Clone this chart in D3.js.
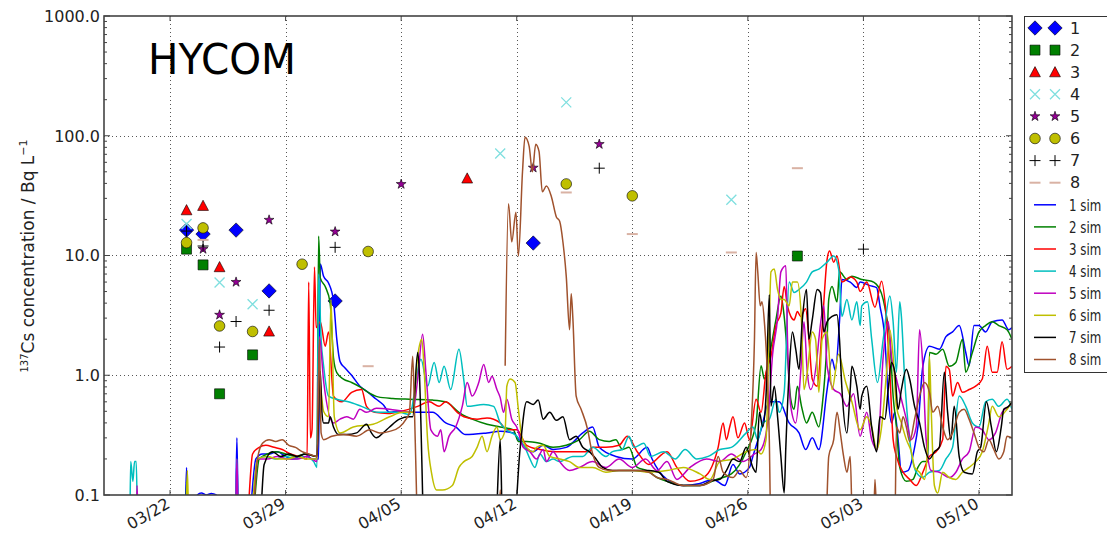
<!DOCTYPE html>
<html>
<head>
<meta charset="utf-8">
<script src="https://cdn.jsdelivr.net/npm/d3@7"></script>
<style>
  body { margin: 0; background: #fff; }
  svg { display: block; }
  text { font-family: "DejaVu Sans", sans-serif; fill: #222; }
</style>
</head>
<body>
<svg id="chart" width="1107" height="537"></svg>
<script>
// ---- axes ----
const startDay = "2011-03-18";
const endDay = "2011-05-12";
const dateTicks = ["2011-03-22", "2011-03-29", "2011-04-05", "2011-04-12", "2011-04-19", "2011-04-26", "2011-05-03", "2011-05-10"];
const concTicks = [0.1, 1, 10, 100, 1000];

// ---- observed concentrations (date, Bq/L) per station ----
const stationNames = ["1", "2", "3", "4", "5", "6", "7", "8"];
const obs1 = [["2011-03-23", 16.3], ["2011-03-24", 15.1], ["2011-03-26", 16.3], ["2011-03-28", 5.06], ["2011-04-01", 4.17], ["2011-04-13", 12.7]];
const obs2 = [["2011-03-23", 11.3], ["2011-03-24", 8.35], ["2011-03-25", 0.70], ["2011-03-27", 1.48], ["2011-04-29", 9.9]];
const obs3 = [["2011-03-23", 23.9], ["2011-03-24", 26], ["2011-03-25", 8.0], ["2011-03-28", 2.32], ["2011-04-09", 44]];
const obs4 = [["2011-03-23", 18.3], ["2011-03-25", 5.95], ["2011-03-27", 3.92], ["2011-04-11", 71], ["2011-04-15", 190], ["2011-04-25", 29.2]];
const obs5 = [["2011-03-24", 11.3], ["2011-03-25", 3.19], ["2011-03-26", 6.0], ["2011-03-28", 19.8], ["2011-04-01", 15.8], ["2011-04-05", 39.4], ["2011-04-13", 54], ["2011-04-17", 85]];
const obs6 = [["2011-03-23", 12.8], ["2011-03-24", 17], ["2011-03-25", 2.58], ["2011-03-27", 2.32], ["2011-03-30", 8.46], ["2011-04-03", 10.8], ["2011-04-15", 39.6], ["2011-04-19", 31.5]];
const obs7 = [["2011-03-23", 16.0], ["2011-03-24", 12.0], ["2011-03-25", 1.72], ["2011-03-26", 2.81], ["2011-03-28", 3.49], ["2011-04-01", 11.7], ["2011-04-17", 53.6], ["2011-05-03", 11.3]];
const obs8 = [["2011-03-24", 13.5], ["2011-04-03", 1.19], ["2011-04-15", 33.6], ["2011-04-19", 15.1], ["2011-04-25", 10.6], ["2011-04-29", 53.6]];

// ---- simulated concentrations: [days after startDay, Bq/L]; null = no value ----
const simNames = ["1 sim", "2 sim", "3 sim", "4 sim", "5 sim", "6 sim", "7 sim", "8 sim"];
const sim1 = [[0,0.05],[4.9,0.05],[5.0,0.17],[5.1,0.05],[5.6,0.05],[5.65,0.1],[5.9,0.104],[6.2,0.1],[6.5,0.103],[6.8,0.1],[6.9,0.05],[7.95,0.05],[8.05,0.3],[8.15,0.05],[8.7,0.05],[9.2,0.2],[9.6,0.22],[10.0,0.22],[10.5,0.23],[11.0,0.21],[11.4,0.2],[11.8,0.21],[12.2,0.22],[12.6,0.2],[13.0,0.2],[13.1,8.5],[13.3,6.7],[13.6,5.9],[13.9,4.2],[14.1,2.0],[14.3,1.3],[14.6,1.15],[15.0,1.0],[15.5,0.81],[16.0,0.72],[16.5,0.63],[16.9,0.57],[17.3,0.49],[17.8,0.5],[18.6,0.49],[19.9,0.49],[20.7,0.4],[21.3,0.37],[21.9,0.32],[23.2,0.33],[24.0,0.34],[24.8,0.33],[25.2,0.28],[26.0,0.23],[26.6,0.26],[27.2,0.24],[28.0,0.25],[29.0,0.33],[29.6,0.37],[30.0,0.25],[31.0,0.21],[32.0,0.2],[32.9,0.25],[33.2,0.2],[34.1,0.135],[35.1,0.12],[36.1,0.125],[36.9,0.135],[37.6,0.12],[38.1,0.18],[38.5,0.15],[39.1,0.17],[39.3,0.21],[39.8,0.35],[40.3,0.6],[40.9,0.6],[41.5,0.4],[42.1,0.33],[42.5,0.24],[42.9,0.3],[43.3,0.24],[43.8,0.76],[44.1,1.36],[44.3,1.1],[44.55,2.8],[44.7,6.3],[45.2,6.0],[45.6,5.4],[45.8,6.0],[46.4,5.6],[46.8,5.4],[47.0,3.8],[47.3,2.0],[47.5,0.67],[47.7,0.4],[47.9,0.49],[48.1,0.29],[48.3,0.155],[48.7,0.16],[49.1,0.25],[49.3,0.37],[49.6,1.19],[50.0,1.75],[50.6,1.65],[51.0,2.1],[51.4,2.3],[51.8,2.6],[52.2,1.55],[52.4,1.2],[52.7,2.6],[53.0,2.6],[53.4,2.3],[53.8,2.8],[54.4,2.9],[54.8,2.4],[55,2.5]];
const sim2 = [[0,0.05],[4.95,0.05],[5.0,0.13],[5.1,0.05],[8.0,0.05],[8.05,0.13],[8.15,0.05],[8.9,0.05],[9.4,0.2],[9.9,0.22],[10.4,0.23],[11.0,0.22],[11.6,0.21],[12.2,0.22],[12.9,0.21],[13.0,14.5],[13.1,6.5],[13.4,5.5],[13.7,4.0],[13.9,1.4],[14.1,1.05],[14.5,0.93],[15.0,0.87],[15.5,0.8],[16.0,0.72],[16.6,0.66],[17.5,0.64],[18.5,0.63],[19.9,0.62],[20.7,0.6],[21.5,0.49],[21.7,0.47],[22.3,0.43],[23.2,0.39],[24.0,0.37],[24.8,0.35],[25.1,0.28],[25.6,0.28],[26.4,0.27],[27.2,0.25],[28.0,0.26],[28.8,0.29],[29.4,0.34],[30.0,0.29],[30.6,0.28],[31.0,0.29],[31.4,0.24],[31.8,0.25],[32.3,0.17],[32.9,0.16],[33.5,0.14],[34.1,0.13],[35.1,0.12],[36.1,0.12],[37.1,0.135],[38.0,0.15],[38.9,0.23],[39.5,0.4],[39.8,1.2],[40.0,0.93],[40.3,1.44],[40.7,2.9],[41.0,4.6],[41.2,3.1],[41.4,1.44],[41.6,0.63],[41.8,0.52],[42.0,0.81],[42.25,0.55],[42.55,0.4],[42.9,0.49],[43.3,0.37],[43.5,0.55],[43.8,2.0],[43.9,4.3],[44.1,5.5],[44.4,4.1],[44.55,7.3],[45.0,6.3],[45.3,6.7],[45.9,6.3],[46.5,6.1],[47.0,5.2],[47.4,3.1],[47.6,2.0],[47.8,0.67],[48.0,0.37],[48.2,0.17],[48.6,0.13],[49.0,0.135],[49.3,0.17],[49.6,0.19],[49.9,0.19],[50.0,1.55],[50.4,1.5],[50.8,1.65],[51.2,1.19],[51.6,1.28],[52.0,2.0],[52.2,1.06],[52.6,1.55],[53.0,2.3],[53.4,2.6],[53.8,2.8],[54.2,2.6],[54.7,2.4],[55,2.0]];
const sim3 = [[0,0.05],[8.6,0.05],[9.0,0.22],[9.4,0.25],[9.8,0.26],[10.3,0.25],[10.8,0.24],[11.3,0.22],[11.8,0.21],[12.3,0.2],[12.4,6.0],[12.5,0.3],[12.6,0.35],[12.75,8.0],[12.85,2.5],[13.1,2.8],[13.4,1.75],[13.6,2.3],[13.9,0.67],[14.4,0.6],[15.0,0.72],[15.6,0.76],[15.9,0.55],[16.4,0.49],[17.2,0.48],[18.0,0.5],[19.0,0.55],[19.7,0.6],[20.3,0.55],[20.7,0.6],[21.4,0.49],[21.8,0.45],[22.6,0.43],[23.2,0.44],[24.0,0.4],[24.4,0.35],[25.0,0.35],[25.6,0.26],[26.4,0.24],[27.4,0.23],[28.4,0.23],[29.4,0.23],[29.6,0.25],[30.4,0.25],[31.2,0.26],[31.7,0.31],[32.3,0.23],[33.0,0.18],[34.1,0.23],[34.7,0.17],[35.5,0.13],[36.1,0.135],[36.7,0.16],[37.2,0.25],[37.5,0.4],[37.7,0.29],[37.9,0.37],[38.1,0.45],[38.4,0.3],[38.8,0.4],[39.1,0.29],[39.5,0.63],[39.8,0.49],[40.1,1.06],[40.4,1.44],[40.7,2.6],[41.0,3.3],[41.2,5.5],[41.4,3.8],[41.6,3.1],[41.8,2.9],[42.0,3.4],[42.2,3.1],[42.5,3.6],[42.7,2.0],[42.9,0.93],[43.2,0.81],[43.5,2.5],[43.8,9.3],[43.95,10.9],[44.2,8.8],[44.4,9.9],[44.7,6.0],[45.2,6.6],[45.6,6.0],[45.8,5.0],[46.2,6.0],[46.7,3.7],[47.1,6.1],[47.4,2.9],[47.6,1.06],[47.8,0.29],[48.0,0.21],[48.4,0.155],[48.8,0.135],[49.2,0.12],[49.6,0.155],[50.0,0.21],[50.4,0.23],[50.8,0.29],[51.0,1.19],[51.2,1.12],[51.4,0.67],[51.7,0.87],[52.0,0.72],[52.4,0.76],[52.8,0.81],[53.2,0.93],[53.5,1.75],[53.8,1.06],[54.1,1.06],[54.4,1.9],[54.7,1.12],[55,1.19]];
const sim4 = [[0,0.05],[1.55,0.05],[1.62,0.19],[1.75,0.13],[1.85,0.19],[1.95,0.19],[2.05,0.05],[7.95,0.05],[8.05,0.2],[8.15,0.05],[8.8,0.05],[9.3,0.2],[9.8,0.21],[10.4,0.2],[11.0,0.21],[11.6,0.2],[12.2,0.21],[12.7,0.19],[12.9,0.17],[13.0,7.0],[13.15,2.0],[13.3,1.2],[13.6,0.67],[14.1,0.63],[14.8,0.6],[15.6,0.55],[16.6,0.49],[17.9,0.49],[18.5,0.47],[19.2,1.36],[19.6,0.81],[20.0,1.28],[20.3,0.87],[20.6,1.19],[21.0,0.76],[21.5,1.65],[21.8,0.9],[22.0,0.55],[23.0,0.57],[23.6,0.55],[24.0,0.4],[24.4,0.35],[25.0,0.31],[25.5,0.25],[25.8,0.2],[26.1,0.17],[26.4,0.22],[26.8,0.19],[27.2,0.2],[27.6,0.19],[28.0,0.2],[28.4,0.21],[29.0,0.21],[29.6,0.25],[30.4,0.21],[30.8,0.23],[31.4,0.24],[31.8,0.31],[32.1,0.25],[32.7,0.27],[33.1,0.21],[33.9,0.23],[34.6,0.2],[35.2,0.24],[35.9,0.2],[36.6,0.21],[37.3,0.24],[38.0,0.25],[38.9,0.33],[39.3,0.37],[39.6,0.29],[39.9,0.4],[40.3,0.43],[40.7,0.63],[40.9,0.49],[41.2,0.72],[41.5,6.0],[41.8,4.9],[42.1,5.2],[42.55,6.0],[42.9,7.3],[43.3,7.7],[43.8,8.8],[44.2,9.9],[44.5,7.7],[44.7,3.1],[45.0,4.3],[45.3,2.9],[45.6,4.1],[45.8,2.6],[45.9,3.8],[46.25,4.1],[46.5,2.0],[46.85,0.87],[47.2,2.0],[47.6,4.6],[47.8,2.8],[48.0,1.06],[48.2,4.1],[48.3,3.1],[48.5,0.93],[48.8,0.29],[49.2,0.155],[49.6,0.14],[50.0,0.155],[50.6,0.16],[51.0,0.2],[51.4,0.25],[51.8,0.67],[52.2,0.55],[52.6,0.4],[53.0,0.37],[53.4,0.6],[53.8,0.63],[54.2,0.55],[54.7,0.63],[55,0.52]];
const sim5 = [[0,0.05],[1.95,0.05],[2.0,0.12],[2.1,0.05],[7.95,0.05],[8.05,0.2],[8.15,0.05],[8.9,0.05],[9.3,0.2],[9.9,0.2],[10.5,0.21],[11.1,0.2],[11.7,0.2],[12.3,0.21],[12.9,0.19],[13.05,2.1],[13.3,0.9],[13.9,0.4],[14.3,0.43],[14.7,0.45],[15.1,0.43],[15.5,0.52],[15.9,0.49],[16.5,0.53],[17.3,0.52],[18.1,0.5],[18.7,0.49],[19.0,0.93],[19.3,2.2],[19.5,1.06],[19.8,0.35],[20.2,0.31],[20.4,0.35],[20.6,0.23],[20.9,0.31],[21.3,0.37],[21.7,0.55],[22.0,0.87],[22.3,0.67],[22.7,0.87],[23.0,1.23],[23.3,0.87],[23.5,0.98],[23.8,0.76],[24.0,0.65],[24.2,0.49],[24.4,0.63],[24.7,0.43],[25.0,0.37],[25.4,0.25],[25.8,0.23],[26.2,0.2],[26.6,0.24],[26.8,0.19],[27.2,0.23],[27.6,0.19],[28.2,0.16],[28.8,0.17],[29.6,0.19],[30.4,0.17],[31.2,0.2],[32.0,0.17],[32.8,0.2],[33.5,0.16],[34.1,0.19],[34.7,0.135],[35.5,0.17],[36.5,0.2],[37.3,0.19],[38.0,0.22],[38.7,0.19],[39.4,0.22],[39.8,0.24],[40.2,0.4],[40.5,1.5],[40.8,3.0],[41.0,7.3],[41.3,8.2],[41.4,2.0],[41.6,0.55],[41.9,0.4],[42.2,1.06],[42.4,2.8],[42.6,1.06],[42.8,0.76],[43.2,1.44],[43.3,2.0],[43.6,3.8],[43.8,1.19],[44.2,0.76],[44.6,0.7],[45.0,0.55],[45.4,0.7],[45.8,0.31],[46.2,0.49],[46.5,0.29],[46.85,0.24],[47.2,1.44],[47.5,2.8],[47.7,1.44],[48.0,0.93],[48.3,0.63],[48.6,0.43],[48.9,0.29],[49.2,0.37],[49.4,2.4],[49.6,1.19],[49.8,0.29],[50.1,0.16],[50.6,0.155],[51.2,0.14],[51.6,0.155],[52.0,0.2],[52.4,0.23],[52.8,0.37],[53.2,0.35],[53.6,0.29],[54.0,0.33],[54.4,0.49],[54.8,0.55],[55,0.58]];
const sim6 = [[0,0.05],[4.95,0.05],[5.05,0.16],[5.15,0.05],[8.8,0.05],[9.3,0.2],[9.9,0.21],[10.5,0.2],[11.1,0.2],[11.7,0.21],[12.3,0.2],[12.9,0.2],[13.05,0.9],[13.3,0.5],[13.6,0.45],[13.75,4.3],[13.95,0.45],[14.3,0.33],[15.1,0.37],[16.3,0.39],[17.3,0.45],[18.1,0.49],[18.7,0.49],[19.0,1.44],[19.25,2.0],[19.4,1.06],[19.6,0.29],[19.85,0.15],[20.15,0.11],[20.5,0.11],[21.1,0.12],[21.5,0.17],[21.8,0.19],[22.3,0.21],[22.6,0.25],[22.9,0.31],[23.2,0.23],[23.5,0.31],[23.8,0.37],[24.0,0.29],[24.3,0.35],[24.4,0.81],[24.6,0.93],[24.9,0.87],[25.1,0.52],[25.3,0.31],[25.6,0.25],[26.0,0.23],[26.2,0.25],[26.6,0.26],[27.0,0.21],[27.6,0.2],[28.2,0.19],[28.8,0.17],[29.6,0.17],[30.4,0.155],[31.2,0.16],[32.0,0.16],[33.0,0.155],[34.1,0.16],[35.1,0.17],[36.1,0.15],[36.7,0.135],[37.3,0.19],[38.1,0.2],[38.9,0.23],[39.5,0.24],[39.8,0.22],[40.1,0.29],[40.3,2.8],[40.4,7.3],[40.6,7.7],[40.8,5.2],[41.0,4.3],[41.2,4.3],[41.5,3.8],[41.7,6.0],[42.0,6.0],[42.25,2.8],[42.4,0.76],[42.6,1.06],[42.9,2.3],[43.1,2.0],[43.3,0.72],[43.5,2.0],[43.8,2.3],[44.1,0.76],[44.5,1.5],[44.9,0.9],[45.3,0.6],[45.8,0.35],[46.2,0.45],[46.5,0.37],[46.8,0.24],[47.1,0.37],[47.4,1.06],[47.6,2.4],[47.8,1.44],[48.0,0.55],[48.3,0.4],[48.6,0.29],[48.9,0.23],[49.1,0.17],[49.4,0.155],[49.7,0.135],[49.9,0.29],[50.0,1.44],[50.1,0.55],[50.3,0.12],[50.5,0.104],[50.8,0.155],[51.2,0.14],[51.6,0.135],[52.0,0.155],[52.4,0.17],[52.8,0.19],[53.2,0.23],[53.6,0.4],[53.8,0.55],[54.2,0.45],[54.7,0.52],[55,0.6]];
const sim7 = [[0,0.05],[9.4,0.05],[9.7,0.18],[10.2,0.23],[10.7,0.21],[11.2,0.22],[11.7,0.21],[12.2,0.22],[12.9,0.21],[13.1,1.08],[13.2,0.49],[13.3,0.4],[13.6,0.4],[13.7,0.45],[13.9,0.37],[14.2,0.32],[14.7,0.32],[15.3,0.33],[15.9,0.39],[16.2,0.33],[16.5,0.3],[16.9,0.33],[17.3,0.37],[17.9,0.43],[18.5,0.45],[18.7,0.45],[19.0,1.55],[19.1,1.06],[19.3,0.1],[19.35,0.05],[23.7,0.05],[24.0,0.29],[24.15,0.05],[24.8,0.05],[25.2,0.24],[25.6,0.6],[26.0,0.57],[26.3,0.62],[26.6,0.43],[27.0,0.49],[27.4,0.42],[27.8,0.45],[28.2,0.29],[28.6,0.31],[29.0,0.25],[29.4,0.23],[29.8,0.2],[30.2,0.17],[30.8,0.16],[32.0,0.16],[33.0,0.16],[33.6,0.155],[34.1,0.13],[35.1,0.12],[36.1,0.12],[36.7,0.13],[37.3,0.135],[37.7,0.16],[38.1,0.2],[38.5,0.19],[38.9,0.25],[39.3,0.17],[39.5,0.155],[39.7,0.49],[39.9,0.37],[40.1,0.67],[40.3,4.7],[40.4,0.55],[40.6,0.81],[40.8,0.45],[41.0,0.21],[41.2,0.104],[41.3,0.25],[41.5,1.06],[41.7,2.3],[41.9,1.65],[42.1,1.12],[42.3,2.9],[42.55,5.2],[42.7,2.0],[42.9,2.9],[43.2,5.2],[43.4,4.9],[43.6,2.3],[43.8,2.8],[44.1,3.1],[44.4,3.2],[44.55,2.0],[44.7,0.76],[45.0,0.33],[45.2,0.76],[45.3,1.19],[45.6,0.81],[45.8,0.52],[45.9,0.67],[46.2,0.81],[46.5,0.37],[46.8,0.23],[47.0,0.45],[47.3,0.43],[47.5,0.76],[47.7,1.28],[47.9,1.06],[48.1,0.52],[48.3,0.76],[48.6,1.12],[48.8,0.93],[49.1,0.55],[49.4,0.4],[49.7,0.25],[50.0,0.2],[50.3,0.23],[50.6,0.25],[50.9,1.06],[51.1,0.49],[51.3,0.29],[51.5,0.55],[51.8,0.21],[52.1,0.155],[52.6,0.15],[52.9,0.23],[53.1,0.25],[53.45,0.6],[53.75,0.37],[54.05,0.23],[54.35,0.37],[54.5,0.52],[54.8,0.55],[55,0.6]];
const sim8 = [[0,0.05],[8.9,0.05],[9.3,0.2],[9.6,0.27],[10.0,0.29],[10.4,0.28],[10.8,0.29],[11.2,0.26],[11.6,0.25],[12.0,0.23],[12.4,0.22],[12.9,0.21],[13.05,2.0],[13.15,0.33],[13.3,0.29],[13.8,0.31],[14.5,0.32],[15.3,0.31],[16.1,0.35],[16.7,0.33],[17.3,0.34],[17.9,0.37],[18.3,0.43],[18.5,0.49],[18.7,1.44],[18.8,0.55],[18.9,0.155],[19.0,0.05],[23.9,0.05],[24.0,0.11],[24.1,0.05],[24.2,null],[24.3,1.2],[24.5,27],[24.7,13],[24.95,23],[25.1,9.9],[25.35,50],[25.5,97],[25.75,82],[25.95,50],[26.15,85],[26.35,74],[26.55,34],[26.8,38],[27.1,31],[27.4,21],[27.6,19.3],[27.8,12.9],[28.0,6.7],[28.2,2.4],[28.3,4.8],[28.4,3.0],[28.6,0.67],[28.9,0.52],[29.3,0.35],[29.5,0.25],[29.7,0.2],[30.0,0.17],[30.6,0.16],[31.6,0.16],[32.4,0.16],[33.0,0.155],[33.5,0.14],[34.1,0.135],[35.1,0.12],[36.1,0.12],[36.9,0.135],[37.2,0.21],[37.5,0.155],[38.1,0.14],[38.5,0.16],[38.9,0.14],[39.2,0.37],[39.4,2.0],[39.5,10.6],[39.6,7.3],[39.75,3.8],[39.85,4.1],[40.0,2.8],[40.3,0.29],[40.4,0.05],[43.7,0.05],[43.9,0.21],[44.2,0.29],[44.4,0.49],[44.6,0.33],[44.8,0.21],[45.0,0.155],[45.2,0.21],[45.35,0.05],[46.6,0.05],[46.7,0.135],[46.85,0.05],[47.9,0.05],[48.0,0.37],[48.2,0.33],[48.4,0.45],[48.6,0.37],[48.8,0.28],[49.1,0.43],[49.4,0.67],[49.7,0.87],[50.0,0.72],[50.2,0.49],[50.5,0.55],[50.8,0.37],[51.1,0.29],[51.4,0.33],[51.8,0.49],[52.1,0.52],[52.4,0.43],[52.7,0.33],[53.0,0.25],[53.3,0.23],[53.6,0.29],[53.9,0.24],[54.2,0.2],[54.5,0.23],[54.7,0.31],[55,0.3]];

// ---- styling ----
const obsColors = ["#0000ff", "#008000", "#ff0000", "#7fdfdf", "#940094", "#bfbf00", "#000000", "#d9b2a4"];
const obsShapes = ["diamond", "square", "triangle", "x", "star", "circle", "plus", "hline"];
const simColors = ["#0000ff", "#008000", "#ff0000", "#00bfbf", "#bf00bf", "#bfbf00", "#000000", "#a0522d"];

const observations = [obs1, obs2, obs3, obs4, obs5, obs6, obs7, obs8];
const simulations = [sim1, sim2, sim3, sim4, sim5, sim6, sim7, sim8];

const svg = d3.select("#chart");
const margin = { left: 104, right: 1012, top: 16, bottom: 495 };
const parse = d3.utcParse("%Y-%m-%d");
const t0 = parse(startDay);

const x = d3.scaleUtc().domain([t0, parse(endDay)]).range([margin.left, margin.right]);
const y = d3.scaleLog().domain([0.1, 1000]).range([margin.bottom, margin.top]);
const dayToDate = d => new Date(t0.getTime() + d * 864e5);

svg.append("defs").append("clipPath").attr("id", "plotClip")
  .append("rect").attr("x", margin.left).attr("y", margin.top)
  .attr("width", margin.right - margin.left).attr("height", margin.bottom - margin.top);

// grid
const grid = svg.append("g").attr("stroke", "#444").attr("stroke-width", 0.9).attr("stroke-dasharray", "1,3");
dateTicks.forEach(s => {
  const gx = Math.round(x(parse(s))) + 0.5;
  grid.append("line").attr("x1", gx).attr("x2", gx).attr("y1", margin.top).attr("y2", margin.bottom);
});
concTicks.slice(1, -1).forEach(v => {
  const gy = Math.round(y(v)) + 0.5;
  grid.append("line").attr("x1", margin.left).attr("x2", margin.right).attr("y1", gy).attr("y2", gy);
});

// marker shapes
function markerPath(shape) {
  switch (shape) {
    case "diamond": return "M0,-7.2L7.2,0L0,7.2L-7.2,0Z";
    case "square": return "M-5,-5H5V5H-5Z";
    case "triangle": return "M0,-5.6L5.4,4.6H-5.4Z";
    case "x": return "M-5,-5L5,5M-5,5L5,-5";
    case "plus": return "M-5.5,0H5.5M0,-5.5V5.5";
    case "hline": return "M-5.5,0H5.5";
    case "star": return d3.symbol(d3.symbolStar, 30)();
    case "circle": return d3.symbol(d3.symbolCircle, Math.PI * 5.3 * 5.3)();
  }
}
function drawMarker(g, shape, color) {
  const p = g.append("path").attr("d", markerPath(shape));
  if (shape === "x" || shape === "plus") {
    p.attr("fill", "none").attr("stroke", color).attr("stroke-width", shape === "x" ? 1.3 : 1);
  } else if (shape === "hline") {
    p.attr("fill", "none").attr("stroke", color).attr("stroke-width", 2);
  } else {
    p.attr("fill", color).attr("stroke", "#000").attr("stroke-width", 0.6);
  }
}

// observed markers
const plot = svg.append("g").attr("clip-path", "url(#plotClip)");
observations.forEach((obs, i) => {
  obs.forEach(([d, v]) => {
    const g = plot.append("g").attr("transform", `translate(${x(parse(d))},${y(v)})`);
    drawMarker(g, obsShapes[i], obsColors[i]);
  });
});

// simulated time series
const line = d3.line()
  .defined(p => p[1] != null)
  .x(p => x(dayToDate(p[0])))
  .y(p => y(p[1]))
  .curve(d3.curveMonotoneX);
simulations.forEach((s, i) => {
  plot.append("path").datum(s).attr("d", line)
    .attr("fill", "none").attr("stroke", simColors[i]).attr("stroke-width", 1.5)
    .attr("stroke-linejoin", "round");
});

// frame
svg.append("rect").attr("x", margin.left).attr("y", margin.top)
  .attr("width", margin.right - margin.left).attr("height", margin.bottom - margin.top)
  .attr("fill", "none").attr("stroke", "#444").attr("stroke-width", 1.6);

// ticks (inward, matplotlib style)
const ticks = svg.append("g").attr("stroke", "#444").attr("stroke-width", 1);
dateTicks.forEach(s => {
  const tx = x(parse(s));
  ticks.append("line").attr("x1", tx).attr("x2", tx).attr("y1", margin.bottom).attr("y2", margin.bottom - 5);
  ticks.append("line").attr("x1", tx).attr("x2", tx).attr("y1", margin.top).attr("y2", margin.top + 5);
});
concTicks.forEach(v => {
  const ty = y(v);
  ticks.append("line").attr("x1", margin.left).attr("x2", margin.left + 6).attr("y1", ty).attr("y2", ty);
  ticks.append("line").attr("x1", margin.right).attr("x2", margin.right - 6).attr("y1", ty).attr("y2", ty);
});
concTicks.slice(0, -1).forEach(base => {
  for (let k = 2; k <= 9; k++) {
    const ty = y(base * k);
    ticks.append("line").attr("x1", margin.left).attr("x2", margin.left + 3).attr("y1", ty).attr("y2", ty);
    ticks.append("line").attr("x1", margin.right).attr("x2", margin.right - 3).attr("y1", ty).attr("y2", ty);
  }
});

// axis labels
const yFmt = d3.format(".1f");
concTicks.forEach(v => {
  svg.append("text").attr("x", margin.left - 4).attr("y", y(v)).attr("dy", "0.36em")
    .attr("text-anchor", "end").attr("font-size", 16).text(yFmt(v));
});
const xFmt = d3.utcFormat("%m/%d");
dateTicks.forEach(s => {
  const tx = x(parse(s));
  svg.append("text").attr("transform", `translate(${tx + 1},${margin.bottom + 12}) rotate(-30)`)
    .attr("text-anchor", "end").attr("font-size", 16).text(xFmt(parse(s)));
});

// y axis title
const yTitle = svg.append("text").attr("transform", "translate(34,256) rotate(-90)")
  .attr("text-anchor", "middle").attr("font-size", 17);
yTitle.append("tspan").attr("font-size", 10).attr("dy", -6).text("137");
yTitle.append("tspan").attr("dy", 6).text("Cs concentration / Bq L");
yTitle.append("tspan").attr("font-size", 11).attr("dy", -7).text("\u22121");

// model name
svg.append("text").attr("x", 148).attr("y", 74).attr("font-family", "Lato, 'Open Sans', sans-serif")
  .attr("font-size", 43).attr("textLength", 148).attr("lengthAdjust", "spacingAndGlyphs")
  .style("fill", "#000").text("HYCOM");

// legend
const lg = svg.append("g");
lg.append("rect").attr("x", 1024.5).attr("y", 16.5).attr("width", 120).attr("height", 356)
  .attr("fill", "#fff").attr("stroke", "#333").attr("stroke-width", 1);
const rowY = i => 28 + i * 22.1;
stationNames.forEach((name, i) => {
  [1035, 1055].forEach(mx => {
    const g = lg.append("g").attr("transform", `translate(${mx},${rowY(i)})`);
    drawMarker(g, obsShapes[i], obsColors[i]);
  });
  lg.append("text").attr("x", 1070).attr("y", rowY(i)).attr("dy", "0.36em").attr("font-size", 16).text(name);
});
simNames.forEach((name, j) => {
  const ry = rowY(j + 8);
  lg.append("line").attr("x1", 1034).attr("x2", 1056).attr("y1", ry).attr("y2", ry)
    .attr("stroke", simColors[j]).attr("stroke-width", 1.5);
  // narrowed so the whole label stays inside the page
  lg.append("text").attr("transform", `translate(1069,${ry}) scale(0.74,1)`)
    .attr("dy", "0.36em").attr("font-size", 16).text(name);
});
</script>
</body>
</html>
